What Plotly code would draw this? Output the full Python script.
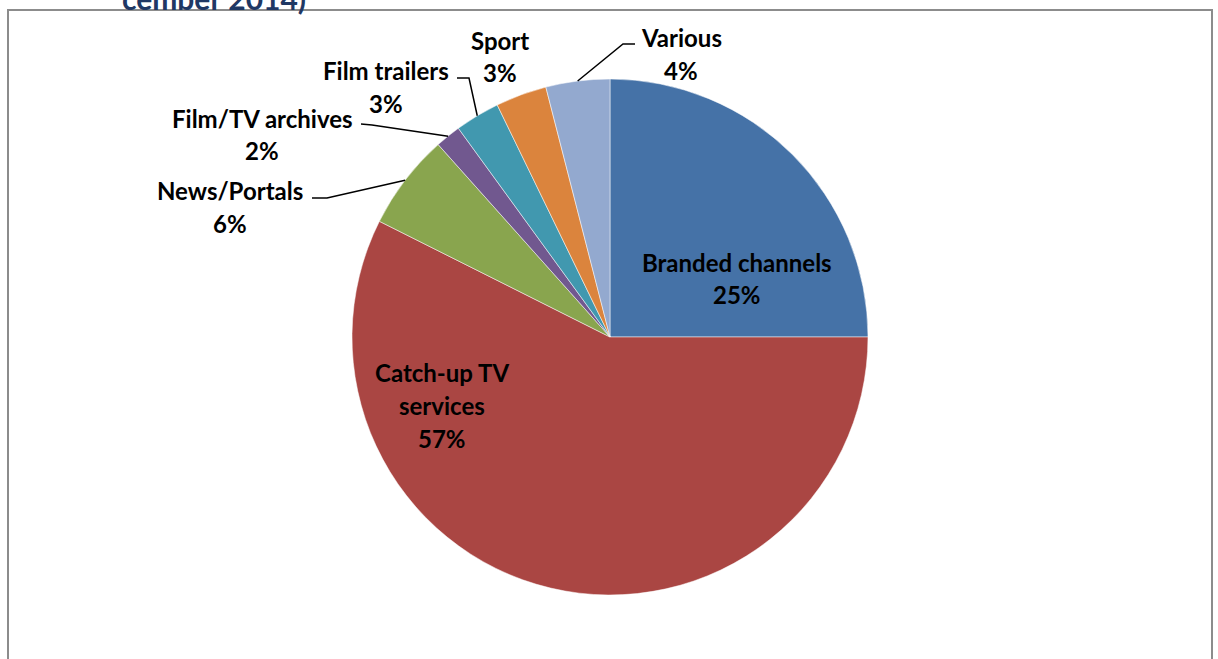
import math
import plotly.graph_objects as go

# ---- data ----
categories = ["Branded channels", "Catch-up TV services", "News/Portals",
              "Film/TV archives", "Film trailers", "Sport", "Various"]
display_names = ["Branded channels", "Catch-up TV<br>services", "News/Portals",
                 "Film/TV archives", "Film trailers", "Sport", "Various"]
shares = [25.0, 57.4, 6.0, 1.6, 2.8, 3.2, 4.0]
colors = ["#4572A7", "#AA4643", "#89A54E", "#71588F", "#4198AF", "#DB843D", "#93A9CF"]
title_fragment = "cember 2014)"

# ---- layout geometry (pixels) ----
W, H = 1218, 659
CX, CY, R = 610, 337, 258
FONT = "Lato"
FS = 24
LINE = 33

# label anchor (center x, first line center y), leader (elbow, end) in pixels
label_pos = [(737, 262), (442, 372), (230, 190), (262, 118), (386, 70), (500, 40), (681, 37)]
leaders = [None, None,
           [(327, 198), (312, 198)],
           [(372, 125), (361, 124)],
           [(469, 78), (457, 78)],
           None,
           [(623, 44), (635, 44)]]


def px(x):
    return x / W


def py(y):
    return 1 - y / H


fig = go.Figure()
fig.add_trace(go.Pie(
    labels=categories, values=shares, sort=False, direction="clockwise",
    rotation=0, marker=dict(colors=colors, line=dict(color="white", width=0.5)),
    textinfo="none", hoverinfo="label+percent", showlegend=False,
    domain=dict(x=[px(CX - R), px(CX + R)], y=[py(CY + R), py(CY - R)]),
))

total = sum(shares)
annotations = []
shapes = []
cum = 0.0
for i, v in enumerate(shares):
    mid = 2 * math.pi * (cum + v / 2) / total
    cum += v
    rim = (CX + R * math.sin(mid), CY - R * math.cos(mid))
    pct = f"{round(100 * v / total)}%"
    lines = display_names[i].split("<br>") + [pct]
    lx, ly = label_pos[i]
    for k, t in enumerate(lines):
        annotations.append(dict(
            x=px(lx), y=py(ly + k * LINE), xref="paper", yref="paper",
            text=f"<b>{t}</b>", showarrow=False, xanchor="center", yanchor="middle",
            font=dict(family=FONT, size=FS, color="black"),
        ))
    if leaders[i]:
        pts = [rim] + leaders[i]
        path = "M " + " L ".join(f"{px(a)} {py(b)}" for a, b in pts)
        shapes.append(dict(type="path", path=path, xref="paper", yref="paper",
                           line=dict(color="black", width=1.5)))

# frame
shapes.append(dict(type="rect", xref="paper", yref="paper",
                   x0=px(8), x1=px(1212), y0=py(720), y1=py(10),
                   line=dict(color="#8C8C8C", width=2), fillcolor="rgba(0,0,0,0)"))

annotations.append(dict(x=px(214), y=py(-2), xref="paper", yref="paper",
                        text=f"<b>{title_fragment}</b>", showarrow=False,
                        xanchor="center", yanchor="middle",
                        font=dict(family=FONT, size=30, color="#1F3864")))

fig.update_layout(
    width=W, height=H, margin=dict(l=0, r=0, t=0, b=0),
    paper_bgcolor="white", plot_bgcolor="white",
    annotations=annotations, shapes=shapes,
)

fig.write_html("out.html", config={"displayModeBar": False},
               post_script="document.body.style.margin='0';document.body.style.overflow='hidden';")
